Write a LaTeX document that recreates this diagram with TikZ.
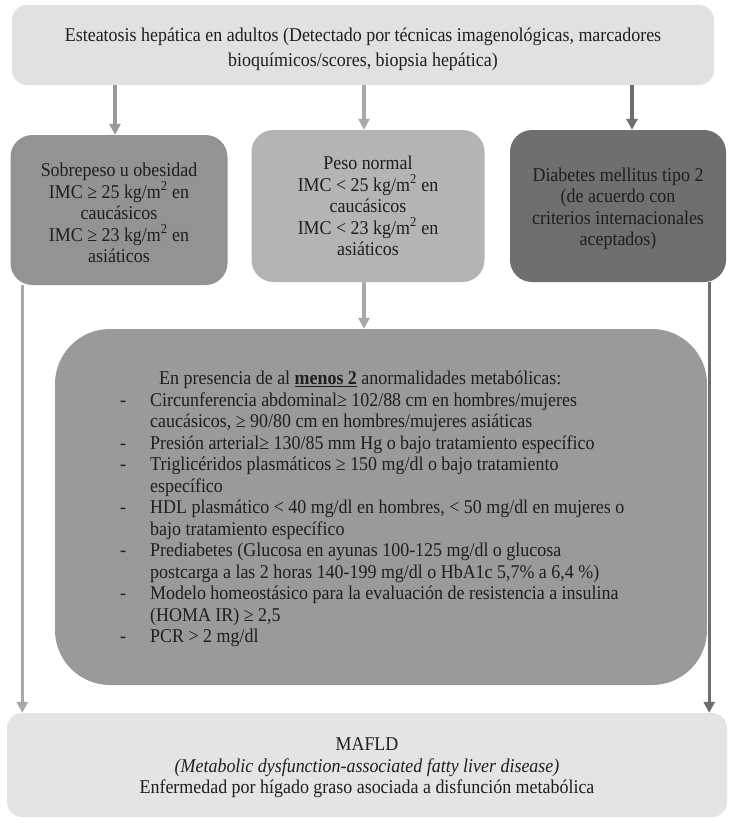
\documentclass[tikz,border=0pt]{standalone}
\usepackage{fontspec}
\setmainfont{Liberation Serif}[FakeStretch=0.92]
\usetikzlibrary{arrows.meta}
\definecolor{topbg}{HTML}{E1E1E2}
\definecolor{boxA}{HTML}{939394}
\definecolor{boxB}{HTML}{B4B4B5}
\definecolor{boxC}{HTML}{6F6F70}
\definecolor{bigbg}{HTML}{9A9A9B}
\definecolor{endbg}{HTML}{E4E4E4}
\definecolor{txt}{HTML}{1E1E1E}
\definecolor{arrA}{HTML}{9A9A9A}
\definecolor{arrB}{HTML}{A9A9A9}
\definecolor{arrC}{HTML}{6E6E6E}
\begin{document}
\begin{tikzpicture}[x=1pt,y=-1pt,
  every node/.style={text=txt},
  txtfont/.style={font=\fontsize{19.5}{21.5}\selectfont},
  box/.style={txtfont, draw=none, align=center, inner sep=0pt},
  arr/.style={line width=3.2pt, -{Triangle[length=11pt,width=11pt]}}]
\useasboundingbox (0,0) rectangle (737,823);
\fill[white] (0,0) rectangle (737,823);

% top box
\node[box, fill=topbg, rounded corners=15pt, minimum width=702pt, minimum height=80pt] (top) at (363,45) {};
\node[box, font=\fontsize{19.5}{25}\selectfont] (tt) at (363,49)
  {Esteatosis hepática en adultos (Detectado por técnicas imagenológicas, marcadores\\
   bioquímicos/scores, biopsia hepática)};

% three boxes
\node[box, fill=boxA, rounded corners=22pt, minimum width=217pt, minimum height=150pt] (b1) at (119,210) {};
\node[box] (t1) at (119,213)
  {Sobrepeso u obesidad\\ IMC ≥ 25 kg/m\textsuperscript{2} en\\ caucásicos\\ IMC ≥ 23 kg/m\textsuperscript{2} en\\ asiáticos};

\node[box, fill=boxB, rounded corners=22pt, minimum width=233pt, minimum height=152pt] (b2) at (368,206) {};
\node[box] (t2) at (368,206)
  {Peso normal\\ IMC < 25 kg/m\textsuperscript{2} en\\ caucásicos\\ IMC < 23 kg/m\textsuperscript{2} en\\ asiáticos};

\node[box, fill=boxC, rounded corners=22pt, minimum width=216pt, minimum height=152pt] (b3) at (618,206) {};
\node[box] (t3) at (618,209)
  {Diabetes mellitus tipo 2\\ (de acuerdo con\\ criterios internacionales\\ aceptados)};

% big box
\node[box, fill=bigbg, rounded corners=55pt, minimum width=652pt, minimum height=356pt] (big) at (381,507) {};
\node[box, align=left, anchor=west] (bt) at (120,509)
  {\hspace*{39pt}En presencia de al \textbf{\underline{menos 2}} anormalidades metabólicas:\\
   \makebox[30pt][l]{-}Circunferencia abdominal≥ 102/88 cm en hombres/mujeres\\
   \hspace*{30pt}caucásicos, ≥ 90/80 cm en hombres/mujeres asiáticas\\
   \makebox[30pt][l]{-}Presión arterial≥ 130/85 mm Hg o bajo tratamiento específico\\
   \makebox[30pt][l]{-}Triglicéridos plasmáticos ≥ 150 mg/dl o bajo tratamiento\\
   \hspace*{30pt}específico\\
   \makebox[30pt][l]{-}HDL plasmático < 40 mg/dl en hombres, < 50 mg/dl en mujeres o\\
   \hspace*{30pt}bajo tratamiento específico\\
   \makebox[30pt][l]{-}Prediabetes (Glucosa en ayunas 100-125 mg/dl o glucosa\\
   \hspace*{30pt}postcarga a las 2 horas 140-199 mg/dl o HbA1c 5,7\% a 6,4 \%)\\
   \makebox[30pt][l]{-}Modelo homeostásico para la evaluación de resistencia a insulina\\
   \hspace*{30pt}(HOMA IR) ≥ 2,5\\
   \makebox[30pt][l]{-}PCR > 2 mg/dl};

% final box
\node[box, fill=endbg, rounded corners=15pt, minimum width=720pt, minimum height=104pt] (m) at (367,765) {};
\node[box] (mt) at (367,768)
  {MAFLD\\ \textit{(Metabolic dysfunction-associated fatty liver disease)}\\
   Enfermedad por hígado graso asociada a disfunción metabólica};

% arrows
\draw[arr, arrA] ([xshift=-4pt]top.south -| b1.north) -- ([xshift=-4pt]b1.north);
\draw[arr, arrB] ([xshift=-4pt]top.south -| b2.north) -- ([xshift=-4pt]b2.north);
\draw[arr, arrC] ([xshift=14pt]top.south -| b3.north) -- ([xshift=14pt]b3.north);
\draw[arr, arrB] ([xshift=-4pt]b2.south) -- ([xshift=-4pt]b2.south |- big.north);
\draw[arr, arrB] ([xshift=12pt]b1.south west) -- ([xshift=12pt]b1.south west |- m.north);
\draw[arr, arrC] ([xshift=-17pt]b3.south east) -- ([xshift=-17pt]b3.south east |- m.north);
\end{tikzpicture}
\end{document}
